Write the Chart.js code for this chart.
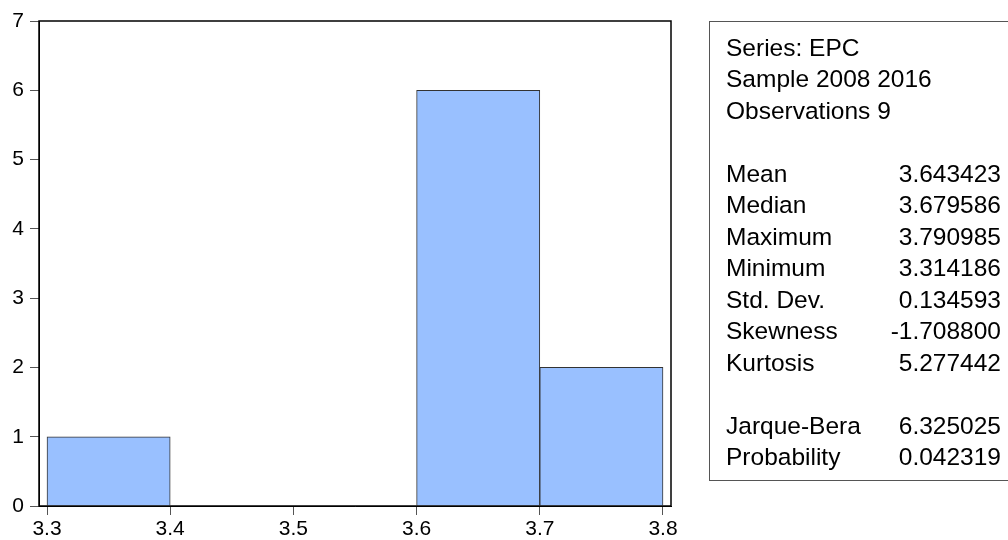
<!DOCTYPE html>
<html>
<head>
<meta charset="utf-8">
<script src="https://cdn.jsdelivr.net/npm/chart.js@4.4.1/dist/chart.umd.min.js"></script>
<style>
  body { margin: 0; background: #fff; }
  #wrap { position: relative; width: 1008px; height: 540px; }
  #stats {
    position: absolute; left: 709px; top: 21px; width: 299px; height: 460px;
    border: 1px solid #555; border-right: none; box-sizing: border-box;
    font-family: "Liberation Sans", Arial, sans-serif; font-size: 24.5px; color: #000;
  }
  .row { position: absolute; left: 16px; right: 7px; height: 31.5px; line-height: 31.5px; white-space: nowrap; }
  .row .v { position: absolute; right: 0; top: 0; }
</style>
</head>
<body>
<div id="wrap">
  <canvas id="hist" width="1008" height="540"></canvas>
  <div id="stats"></div>
</div>
<script>
// histogram bins (centres) and counts
const binCenters = [3.35, 3.45, 3.55, 3.65, 3.75];
const counts = [1, 0, 0, 6, 2];
const xTicks = [3.3, 3.4, 3.5, 3.6, 3.7, 3.8];
const yTicks = [0, 1, 2, 3, 4, 5, 6, 7];

// summary statistics box
const headLines = ["Series: EPC", "Sample 2008 2016", "Observations 9"];
const statNames = ["Mean", "Median", "Maximum", "Minimum", "Std. Dev.", "Skewness", "Kurtosis"];
const statValues = ["3.643423", "3.679586", "3.790985", "3.314186", "0.134593", "-1.708800", "5.277442"];
const testNames = ["Jarque-Bera", "Probability"];
const testValues = ["6.325025", "0.042319"];

const box = document.getElementById("stats");
const lineH = 31.5;
function addRow(k, name, value) {
    const r = document.createElement("div");
    r.className = "row";
    r.style.top = (9.6 + k * lineH) + "px";
    r.textContent = name;
    if (value !== undefined) {
        const v = document.createElement("span");
        v.className = "v";
        v.textContent = value;
        r.appendChild(v);
    }
    box.appendChild(r);
}
headLines.forEach((t, i) => addRow(i, t));
statNames.forEach((t, i) => addRow(4 + i, t, statValues[i]));
testNames.forEach((t, i) => addRow(12 + i, t, testValues[i]));

// frame around the plot area
const framePlugin = {
    id: "frame",
    afterDraw(chart) {
        const a = chart.chartArea;
        const c = chart.ctx;
        c.save();
        c.strokeStyle = "#000";
        c.lineWidth = 1.5;
        c.strokeRect(a.left, a.top, a.right - a.left, a.bottom - a.top);
        c.restore();
    }
};

const axisFont = { family: "'Liberation Sans', Arial, sans-serif", size: 21 };

new Chart(document.getElementById("hist").getContext("2d"), {
    type: "bar",
    data: {
        datasets: [{
            data: binCenters.map((x, i) => ({ x: x, y: counts[i] })),
            backgroundColor: "#99C0FF",
            borderColor: "#333",
            borderWidth: 1,
            barPercentage: 1,
            categoryPercentage: 1
        }]
    },
    options: {
        responsive: false,
        animation: false,
        layout: { padding: { left: 0, top: 21, right: 337, bottom: 0 } },
        plugins: { legend: { display: false }, tooltip: { enabled: false } },
        scales: {
            x: {
                type: "linear",
                offset: false,
                min: 3.2935,
                max: 3.8065,
                afterBuildTicks: s => { s.ticks = xTicks.map(v => ({ value: v })); },
                afterFit: s => { s.height = 34; },
                ticks: {
                    color: "#000", font: axisFont, padding: 2, maxRotation: 0,
                    callback: v => v.toFixed(1)
                },
                grid: { offset: false, drawOnChartArea: false, drawTicks: true, tickLength: 9, tickColor: "#555" },
                border: { display: true, color: "#000" }
            },
            y: {
                min: 0,
                max: 7,
                afterBuildTicks: s => { s.ticks = yTicks.map(v => ({ value: v })); },
                afterFit: s => { s.width = 39; },
                ticks: { color: "#000", font: axisFont, padding: 6 },
                grid: { drawOnChartArea: false, drawTicks: true, tickLength: 9, tickColor: "#555" },
                border: { display: true, color: "#000" }
            }
        }
    },
    plugins: [framePlugin]
});
</script>
</body>
</html>
